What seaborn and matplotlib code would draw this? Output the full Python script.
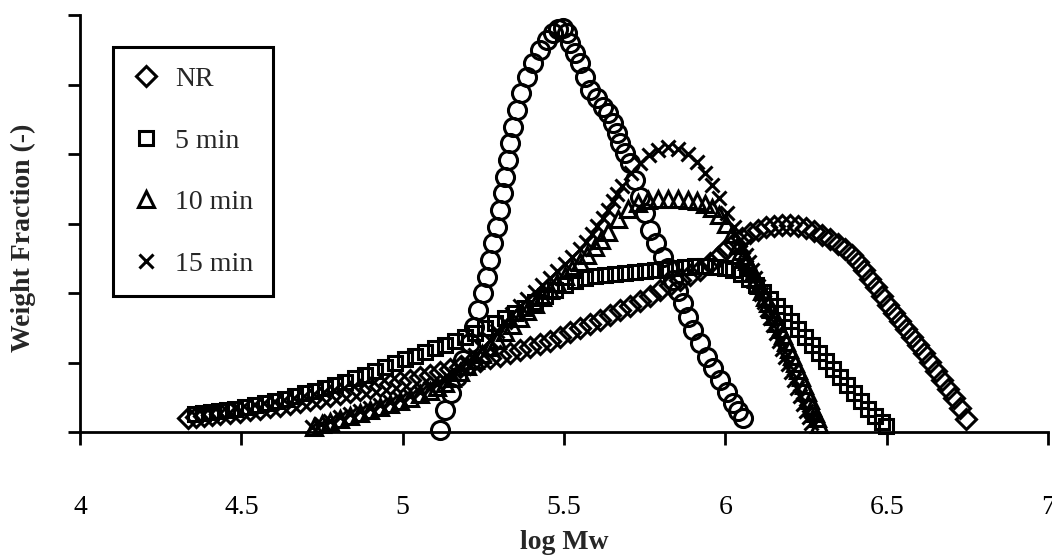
import matplotlib
matplotlib.use('Agg')
import matplotlib.pyplot as plt
import seaborn as sns

# --- data (x = log Mw, y = weight fraction, arbitrary units) ---
nr_x = [4.335, 4.359, 4.384, 4.409, 4.434, 4.465, 4.496, 4.527, 4.558, 4.589,
        4.620, 4.651, 4.682, 4.713, 4.744, 4.775, 4.806, 4.837, 4.868, 4.899,
        4.930, 4.961, 4.992, 5.023, 5.054, 5.085, 5.116, 5.147, 5.178, 5.209,
        5.240, 5.271, 5.302, 5.333, 5.364, 5.395, 5.426, 5.457, 5.488, 5.519,
        5.550, 5.580, 5.611, 5.642, 5.673, 5.704, 5.735, 5.766, 5.797, 5.828,
        5.859, 5.890, 5.921, 5.952, 5.977, 6.002, 6.027, 6.051, 6.076, 6.101,
        6.126, 6.151, 6.175, 6.200, 6.225, 6.250, 6.275, 6.299, 6.324, 6.349,
        6.371, 6.392, 6.411, 6.430, 6.448, 6.467, 6.485, 6.504, 6.522, 6.541,
        6.560, 6.578, 6.597, 6.615, 6.634, 6.653, 6.671, 6.690, 6.708, 6.727,
        6.746]
nr_y = [0.040, 0.043, 0.046, 0.049, 0.052, 0.055, 0.058, 0.063, 0.066, 0.072,
        0.075, 0.081, 0.086, 0.092, 0.098, 0.104, 0.109, 0.115, 0.121, 0.127,
        0.132, 0.138, 0.144, 0.150, 0.158, 0.164, 0.173, 0.181, 0.187, 0.196,
        0.204, 0.213, 0.219, 0.227, 0.236, 0.245, 0.253, 0.262, 0.273, 0.288,
        0.299, 0.311, 0.322, 0.337, 0.351, 0.363, 0.377, 0.391, 0.409, 0.423,
        0.437, 0.452, 0.466, 0.486, 0.504, 0.527, 0.544, 0.558, 0.573, 0.581,
        0.590, 0.593, 0.596, 0.596, 0.593, 0.587, 0.578, 0.567, 0.555, 0.541,
        0.527, 0.509, 0.489, 0.466, 0.440, 0.417, 0.391, 0.366, 0.342, 0.319,
        0.296, 0.273, 0.250, 0.227, 0.201, 0.176, 0.150, 0.124, 0.098, 0.069,
        0.037]

m5_x = [4.356, 4.381, 4.406, 4.431, 4.456, 4.480,
        4.511, 4.542, 4.573, 4.604, 4.635, 4.666, 4.697, 4.728, 4.759, 4.790,
        4.821, 4.852, 4.883, 4.914, 4.945, 4.976, 5.007, 5.038, 5.069, 5.100,
        5.131, 5.162, 5.193, 5.224, 5.255, 5.286, 5.317, 5.348, 5.379, 5.410,
        5.441, 5.472, 5.503, 5.534, 5.565, 5.596, 5.627, 5.658, 5.689, 5.720,
        5.751, 5.782, 5.813, 5.844, 5.875, 5.906, 5.937, 5.968, 5.999,
        6.024, 6.048, 6.073, 6.095, 6.117, 6.138, 6.160, 6.182, 6.203, 6.225,
        6.247, 6.268, 6.290, 6.312, 6.334, 6.355, 6.377, 6.399, 6.420, 6.442,
        6.464, 6.485, 6.498]
m5_y = [0.052, 0.055, 0.058, 0.060, 0.063, 0.066,
        0.072, 0.078, 0.083, 0.089, 0.095, 0.104, 0.112, 0.118, 0.127, 0.135,
        0.144, 0.155, 0.164, 0.176, 0.187, 0.199, 0.210, 0.219, 0.230, 0.242,
        0.250, 0.262, 0.273, 0.285, 0.299, 0.314, 0.328, 0.342, 0.357, 0.374,
        0.391, 0.409, 0.423, 0.435, 0.443, 0.449, 0.452, 0.455, 0.458, 0.460,
        0.463, 0.466, 0.469, 0.472, 0.475, 0.478, 0.478, 0.475, 0.472,
        0.466, 0.455, 0.440, 0.423, 0.403, 0.383, 0.363, 0.342, 0.319, 0.296,
        0.273, 0.250, 0.227, 0.204, 0.181, 0.158, 0.135, 0.112, 0.089, 0.066,
        0.046, 0.029, 0.017]

m10_x = [4.725, 4.750, 4.775, 4.806, 4.837, 4.868, 4.899, 4.930, 4.961, 4.992,
         5.023, 5.054, 5.085, 5.106, 5.131, 5.153, 5.178, 5.199, 5.224, 5.246,
         5.271, 5.292, 5.317, 5.339, 5.364, 5.385, 5.410, 5.432, 5.457, 5.478,
         5.503, 5.525, 5.550, 5.571, 5.596, 5.615, 5.636, 5.667, 5.698, 5.729,
         5.760, 5.791, 5.822, 5.853, 5.884, 5.912, 5.937, 5.959, 5.980, 6.002,
         6.021, 6.039, 6.048, 6.058, 6.067, 6.076, 6.086, 6.095, 6.104, 6.113,
         6.123, 6.132, 6.141, 6.151, 6.160, 6.169, 6.179, 6.188, 6.197, 6.206,
         6.216, 6.225, 6.234, 6.244, 6.253, 6.262, 6.270, 6.278, 6.284, 6.290]
m10_y = [0.014, 0.022, 0.029, 0.037, 0.046, 0.055, 0.063, 0.072, 0.081, 0.089,
         0.098, 0.108, 0.118, 0.130, 0.141, 0.155, 0.173, 0.190, 0.207, 0.224,
         0.245, 0.265, 0.288, 0.308, 0.328, 0.348, 0.368, 0.389, 0.409, 0.429,
         0.449, 0.469, 0.489, 0.509, 0.532, 0.553, 0.576, 0.613, 0.642, 0.659,
         0.668, 0.671, 0.671, 0.671, 0.668, 0.665, 0.656, 0.645, 0.625, 0.599,
         0.570, 0.538, 0.522, 0.507, 0.491, 0.475, 0.458, 0.440, 0.423, 0.406,
         0.389, 0.371, 0.353, 0.334, 0.315, 0.296, 0.278, 0.259, 0.239, 0.219,
         0.199, 0.178, 0.157, 0.135, 0.114, 0.092, 0.073, 0.055, 0.039, 0.023]

m15_x = [4.719, 4.747, 4.775, 4.806, 4.837, 4.868, 4.899, 4.930, 4.961, 4.992,
         5.023, 5.054, 5.085, 5.106, 5.131, 5.153, 5.178, 5.199, 5.224, 5.246,
         5.271, 5.292, 5.317, 5.339, 5.364, 5.385, 5.410, 5.432, 5.457, 5.478,
         5.503, 5.525, 5.550, 5.568, 5.587, 5.602, 5.621, 5.636, 5.652, 5.664,
         5.680, 5.708, 5.735, 5.763, 5.791, 5.822, 5.853, 5.884, 5.912, 5.937,
         5.959, 5.980, 6.005, 6.027, 6.045, 6.055, 6.064, 6.073, 6.082, 6.092,
         6.101, 6.110, 6.120, 6.129, 6.138, 6.148, 6.157, 6.166, 6.175, 6.185,
         6.194, 6.203, 6.213, 6.222, 6.231, 6.241, 6.250, 6.259, 6.265]
m15_y = [0.014, 0.023, 0.032, 0.042, 0.052, 0.060, 0.069, 0.078, 0.086, 0.095,
         0.104, 0.115, 0.127, 0.138, 0.150, 0.167, 0.184, 0.201, 0.222, 0.242,
         0.265, 0.291, 0.317, 0.340, 0.363, 0.383, 0.403, 0.423, 0.443, 0.463,
         0.484, 0.504, 0.527, 0.547, 0.570, 0.593, 0.616, 0.639, 0.665, 0.685,
         0.708, 0.745, 0.774, 0.797, 0.812, 0.820, 0.814, 0.800, 0.777, 0.745,
         0.711, 0.673, 0.630, 0.590, 0.553, 0.531, 0.509, 0.488, 0.466, 0.443,
         0.420, 0.397, 0.374, 0.351, 0.328, 0.307, 0.285, 0.262, 0.239, 0.217,
         0.196, 0.173, 0.150, 0.127, 0.104, 0.082, 0.060, 0.043, 0.026]

# circle series (not in the legend)
c_x = [5.116, 5.131, 5.150, 5.168, 5.187, 5.209, 5.221, 5.233, 5.249, 5.261,
       5.271, 5.280, 5.292, 5.302, 5.311, 5.317, 5.326, 5.333, 5.342, 5.354,
       5.367, 5.385, 5.404, 5.426, 5.447, 5.466, 5.481, 5.497, 5.509, 5.518,
       5.534, 5.549, 5.565, 5.580, 5.602, 5.621, 5.636, 5.652, 5.664, 5.673,
       5.689, 5.704, 5.720, 5.735, 5.751, 5.766, 5.785, 5.807, 5.822, 5.838,
       5.853, 5.869, 5.884, 5.900, 5.921, 5.943, 5.962, 5.983, 6.005, 6.024,
       6.039, 6.055]
c_y = [0.006, 0.063, 0.112, 0.158, 0.207, 0.256, 0.302, 0.351, 0.400, 0.446,
       0.495, 0.544, 0.590, 0.639, 0.688, 0.734, 0.783, 0.832, 0.878, 0.927,
       0.976, 1.022, 1.062, 1.099, 1.128, 1.148, 1.160, 1.163, 1.148, 1.120,
       1.091, 1.062, 1.022, 0.984, 0.961, 0.935, 0.918, 0.889, 0.861, 0.832,
       0.803, 0.774, 0.725, 0.676, 0.630, 0.581, 0.544, 0.504, 0.472, 0.437,
       0.406, 0.371, 0.331, 0.294, 0.256, 0.216, 0.184, 0.150, 0.115, 0.083,
       0.060, 0.040]

x_ticks = [4, 4.5, 5, 5.5, 6, 6.5, 7]
x_tick_labels = ['4', '4.5', '5', '5.5', '6', '6.5', '7']
y_ticks = [0, 0.2, 0.4, 0.6, 0.8, 1.0, 1.2]

sns.set_theme(style='ticks')
plt.rcParams['font.family'] = ['Liberation Serif', 'DejaVu Serif']

fig = plt.figure(figsize=(10.52, 5.57), dpi=100)
ax = fig.add_axes([80 / 1052, 1 - 432 / 557, 968 / 1052, 417 / 557])

common = dict(ax=ax, sort=False, estimator=None, linestyle='', color='black',
              markerfacecolor='none', markeredgecolor='black',
              markeredgewidth=2.2, clip_on=False)

sns.lineplot(x=c_x, y=c_y, marker='o', markersize=13, **common)
sns.lineplot(x=m15_x, y=m15_y, marker='x', markersize=10, label='15 min', **common)
sns.lineplot(x=m10_x, y=m10_y, marker='^', markersize=11, label='10 min', **common)
sns.lineplot(x=m5_x, y=m5_y, marker='s', markersize=10, label='5 min', **common)
sns.lineplot(x=nr_x, y=nr_y, marker='D', markersize=10, label='NR', **common)

ax.set_xlim(4, 7)
ax.set_ylim(0, 1.2)
ax.set_xticks(x_ticks)
ax.set_xticklabels(x_tick_labels)
ax.set_yticks(y_ticks)
ax.set_yticklabels([])

for side in ['top', 'right']:
    ax.spines[side].set_visible(False)
for side in ['left', 'bottom']:
    ax.spines[side].set_linewidth(2.0)
    ax.spines[side].set_color('black')

ax.tick_params(axis='x', direction='out', length=9, width=2.0, pad=36,
               labelsize=20, colors='black')
ax.tick_params(axis='y', direction='out', length=9, width=2.0, colors='black')

ax.set_xlabel('log Mw', fontsize=20, fontweight='bold')
ax.set_ylabel('Weight Fraction (-)', fontsize=20, fontweight='bold')
ax.xaxis.set_label_coords(0.5, -0.235)
ax.yaxis.set_label_coords(-0.045, 0.465)

handles, labels = ax.get_legend_handles_labels()
order = [labels.index(k) for k in ['NR', '5 min', '10 min', '15 min']]
leg = ax.legend([handles[i] for i in order], [labels[i] for i in order],
                loc='upper left', bbox_to_anchor=(0.034, 0.923),
                borderaxespad=0, frameon=True, fancybox=False,
                edgecolor='black', framealpha=1, fontsize=20,
                labelspacing=1.3, borderpad=0.7, handlelength=1.0,
                handletextpad=0.55)
leg.get_frame().set_linewidth(2.2)

fig.savefig('out.png', dpi=100)
